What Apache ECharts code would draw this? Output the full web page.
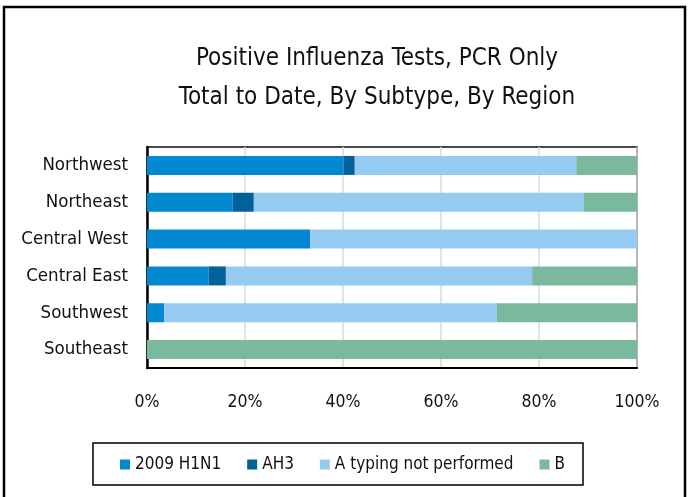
<!DOCTYPE html>
<html>
<head>
<meta charset="utf-8">
<script src="https://cdn.jsdelivr.net/npm/echarts@6/dist/echarts.min.js"></script>
<style>
html,body{margin:0;padding:0;background:#fff;}
#c{width:695px;height:497px;}
</style>
</head>
<body>
<div id="c"></div>
<script>
const regions = ["Northwest","Northeast","Central West","Central East","Southwest","Southeast"];
const h1n1 = [40.1, 17.5, 33.3, 12.6, 3.5, 0];
const ah3 = [2.3, 4.3, 0, 3.5, 0, 0];
const aNotTyped = [45.2, 67.3, 66.7, 62.5, 67.9, 0];
const bType = [12.4, 10.9, 0, 21.4, 28.6, 100];
const seriesNames = ["2009 H1N1","AH3","A typing not performed","B"];
const colors = ["#0288d1","#02609a","#95cbf0","#7bb99e"];
const xTicks = [0,20,40,60,80,100];

const FONT = '"Liberation Sans Narrow","DejaVu Sans Condensed","Liberation Sans",sans-serif';
const chart = echarts.init(document.getElementById('c'));
const dataSets = [h1n1, ah3, aNotTyped, bType];
const cats = regions.slice().reverse();
chart.setOption({
  animation:false,
  textStyle:{fontFamily:FONT,color:'#000'},
  title:{
    text:'Positive Influenza Tests, PCR Only\nTotal to Date, By Subtype, By Region',
    left:372, top:34, textAlign:'center',
    textStyle:{fontFamily:FONT,fontSize:24,fontWeight:'normal',color:'#111',lineHeight:39}
  },
  legend:{
    data:seriesNames, left:120, top:456, padding:0,
    itemWidth:10, itemHeight:10, itemGap:26,
    icon:'rect',
    textStyle:{fontFamily:FONT,fontSize:17,color:'#111'}
  },
  grid:{left:147, top:147, width:490, height:221, show:true, borderColor:'#111', borderWidth:1.5},
  xAxis:{
    type:'value', min:0, max:100, interval:20,
    axisLine:{show:true,lineStyle:{color:'#000',width:2}},
    axisTick:{show:false},
    splitLine:{lineStyle:{color:'#d9d9d9',width:1.5}},
    axisLabel:{formatter:v=>v+'%', fontFamily:FONT, fontSize:17.5, color:'#111', margin:25}
  },
  yAxis:{
    type:'category', data:cats,
    axisLine:{show:true,lineStyle:{color:'#000',width:2.5}},
    axisTick:{show:false},
    axisLabel:{fontFamily:FONT, fontSize:18.5, color:'#111', margin:19}
  },
  graphic:[{type:'rect',shape:{x:4,y:7,width:681,height:500},style:{fill:'none',stroke:'#000',lineWidth:2.5},silent:true},
           {type:'rect',shape:{x:93,y:443,width:490,height:42},style:{fill:'none',stroke:'#000',lineWidth:1.5},silent:true}],
  series: seriesNames.map((n,i)=>({
    name:n, type:'bar', stack:'all', barWidth:19,
    itemStyle:{color:colors[i]},
    data:dataSets[i].slice().reverse()
  }))
});
</script>
</body>
</html>
